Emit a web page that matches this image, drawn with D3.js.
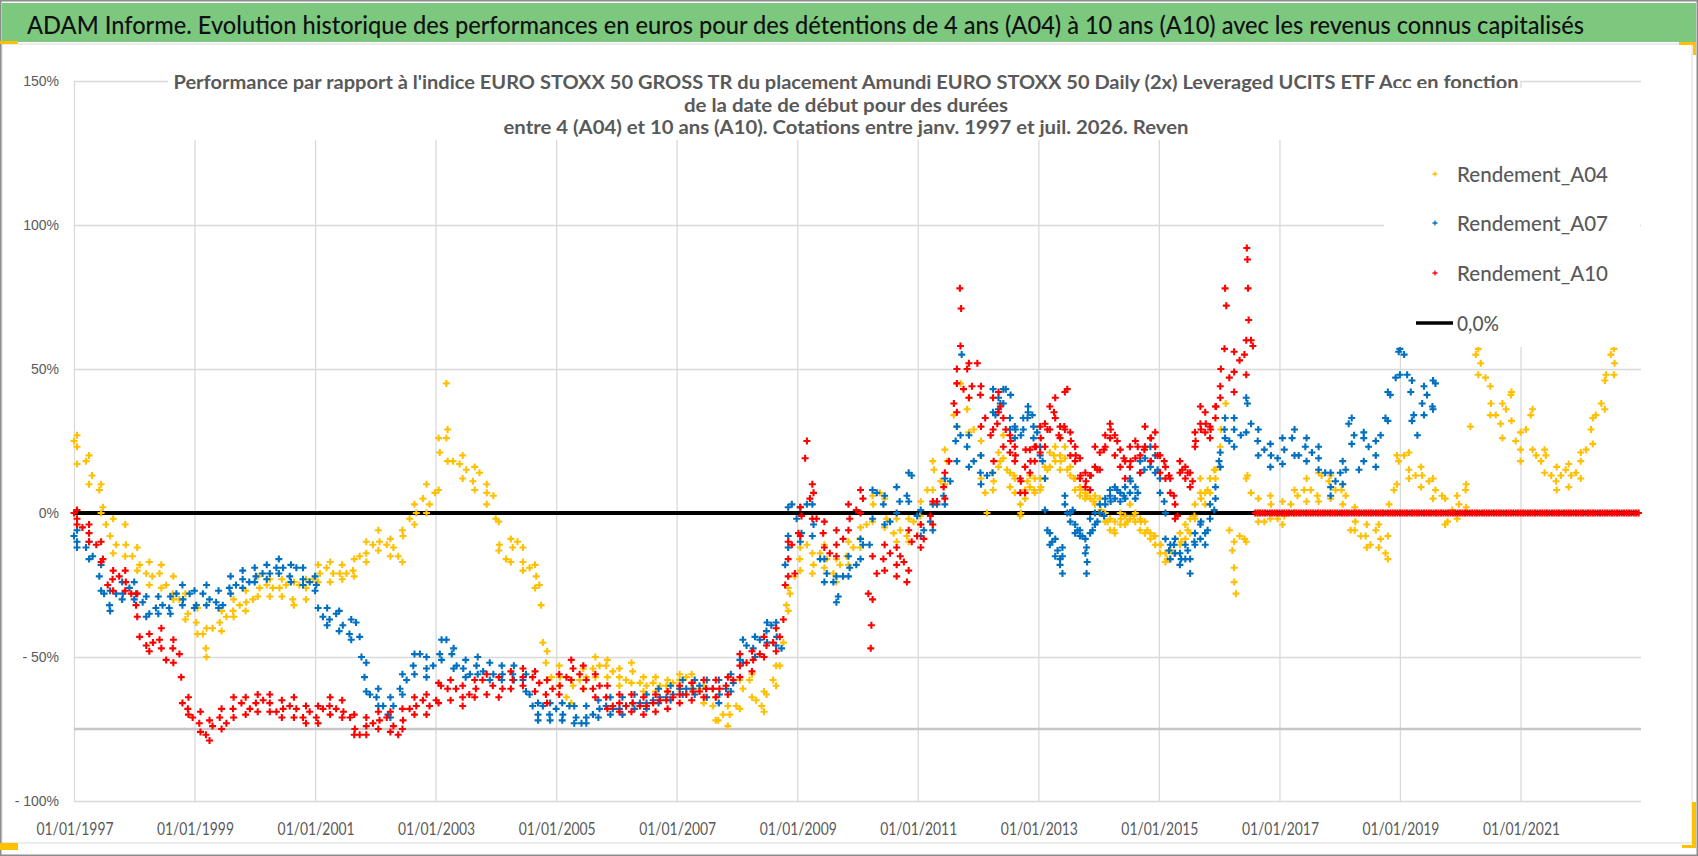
<!DOCTYPE html>
<html><head><meta charset="utf-8">
<script src="https://cdn.jsdelivr.net/npm/d3@7/dist/d3.min.js"></script>
<style>body{margin:0;background:#fff;overflow:hidden}</style>
</head><body>
<svg id="chart" width="1698" height="856"></svg>
<script>
// ---------------- DATA ----------------
const headerTitle = "ADAM Informe. Evolution historique des performances en euros pour des détentions de 4 ans (A04) à 10 ans (A10) avec les revenus connus capitalisés";
const chartTitleLines = [
  "Performance par rapport à l'indice EURO STOXX 50 GROSS TR  du placement Amundi EURO STOXX 50 Daily (2x) Leveraged UCITS ETF Acc en fonction",
  "de la date de début pour des durées",
  "entre 4 (A04) et 10 ans (A10). Cotations entre janv. 1997 et juil. 2026. Reven"
];
const seriesNames = ["Rendement_A04", "Rendement_A07", "Rendement_A10", "0,0%"];
const xTickYears = [1997, 1999, 2001, 2003, 2005, 2007, 2009, 2011, 2013, 2015, 2017, 2019, 2021];
const yTickValues = [150, 100, 50, 0, -50, -100];
const yTickLabels = ["150%", "100%", "50%", "0%", "- 50%", "- 100%"];
const xDomainYears = [1997, 2023];
const yDomain = [-100, 150];

// central readings: [decimal year, performance %]
const a04 = [
[1997.00,25],[1997.05,23],[1997.20,18],[1997.30,13],[1997.42,8],[1997.48,2],[1997.53,-4],[1997.60,-8],[1997.70,-11],[1997.86,-11],
[1997.97,-15],[1998.09,-18],[1998.20,-21],[1998.30,-22],[1998.42,-21],[1998.53,-25],[1998.64,-28],[1998.75,-30],[1998.89,-35],[1999.03,-38],
[1999.14,-42],[1999.19,-47],[1999.30,-40],[1999.42,-38],[1999.53,-36],[1999.64,-34],[1999.75,-32],[1999.86,-31],[1999.97,-30],[2000.08,-26],
[2000.20,-25],[2000.30,-26],[2000.41,-26],[2000.52,-25],[2000.63,-30],[2000.74,-25],[2000.85,-26],[2000.97,-23],[2001.08,-21],[2001.19,-19],
[2001.30,-21],[2001.41,-21],[2001.52,-21],[2001.63,-20],[2001.74,-15],[2001.85,-14],[2001.96,-11],[2002.07,-10],[2002.19,-11],[2002.30,-12],
[2002.38,-15],[2002.46,-8],[2002.57,-2],[2002.68,0],[2002.79,5],[2002.90,3],[2002.99,7],[2003.07,21],[2003.18,26],[2003.18,45],
[2003.29,18],[2003.40,17],[2003.51,15],[2003.62,11],[2003.73,14],[2003.85,7],[2003.96,6],[2004.00,-2],[2004.06,-11],[2004.17,-16],
[2004.28,-12],[2004.36,-10],[2004.45,-17],[2004.56,-19],[2004.67,-22],[2004.72,-25],[2004.75,-32],[2004.78,-45],[2004.83,-52],[2004.92,-57],
[2005.06,-57],[2005.17,-64],[2005.28,-60],[2005.39,-58],[2005.50,-57],[2005.61,-54],[2005.72,-53],[2005.83,-53],[2005.94,-55],[2006.05,-57],
[2006.16,-58],[2006.27,-55],[2006.39,-59],[2006.50,-60],[2006.61,-59],[2006.72,-60],[2006.83,-60],[2006.94,-59],[2007.05,-58],[2007.16,-57],
[2007.27,-59],[2007.38,-61],[2007.49,-64],[2007.60,-67],[2007.69,-72],[2007.77,-70],[2007.88,-70],[2007.99,-67],[2008.10,-61],[2008.21,-58],
[2008.32,-65],[2008.41,-67],[2008.49,-63],[2008.60,-58],[2008.71,-53],[2008.77,-45],[2008.82,-32],[2008.88,-28],[2008.96,-22],[2009.04,-16],
[2009.16,-11],[2009.27,-18],[2009.38,-14],[2009.49,-16],[2009.60,-21],[2009.71,-18],[2009.82,-15],[2009.93,-12],[2010.04,-9],[2010.15,-4],
[2010.26,3],[2010.37,7],[2010.48,-2],[2010.60,-7],[2010.71,-6],[2010.82,-8],[2010.93,-3],[2011.04,-1],[2011.16,8],[2011.27,15],
[2011.38,11],[2011.49,18],[2011.60,34],[2011.71,45],[2011.82,36],[2011.93,29],[2012.04,20],[2012.12,7],[2012.15,0],[2012.26,11],
[2012.37,18],[2012.48,15],[2012.60,13],[2012.71,0],[2012.82,11],[2012.93,8],[2013.04,9],[2013.15,15],[2013.26,20],[2013.37,18],
[2013.48,15],[2013.59,12],[2013.70,8],[2013.81,6],[2013.92,4],[2014.04,1],[2014.15,-3],[2014.26,-6],[2014.37,-2],[2014.48,-3],
[2014.59,-1],[2014.70,-3],[2014.81,-6],[2014.92,-8],[2015.03,-11],[2015.14,-16],[2015.25,-14],[2015.37,-10],[2015.48,-6],[2015.59,-1],
[2015.70,5],[2015.81,8],[2015.92,15],[2016.03,29],[2016.11,38],[2016.17,-6],[2016.22,-13],[2016.25,-19],[2016.28,-28],[2016.34,-8],
[2016.42,-9],[2016.47,13],[2016.53,7],[2016.64,0],[2016.75,-3],[2016.86,3],[2016.97,-2],[2017.08,-1],[2017.19,3],[2017.30,6],
[2017.41,8],[2017.52,8],[2017.63,6],[2017.70,13],[2017.82,11],[2017.93,8],[2018.03,8],[2018.10,6],[2018.18,-6],[2018.26,-3],
[2018.35,-8],[2018.43,-8],[2018.51,-11],[2018.60,-6],[2018.68,-9],[2018.76,-14],[2018.82,3],[2018.90,8],[2018.98,18],[2019.07,20],
[2019.15,15],[2019.26,13],[2019.37,13],[2019.48,11],[2019.59,8],[2019.70,6],[2019.79,-3],[2019.87,1],[2019.98,3],[2020.09,8],
[2020.17,30],[2020.26,55],[2020.34,52],[2020.42,47],[2020.51,38],[2020.59,34],[2020.67,31],[2020.76,36],[2020.84,41],[2020.92,25],
[2021.00,22],[2021.09,29],[2021.17,34],[2021.26,20],[2021.34,18],[2021.42,20],[2021.51,13],[2021.59,11],[2021.67,13],[2021.75,15],
[2021.84,13],[2021.92,14],[2022.00,18],[2022.09,22],[2022.17,29],[2022.25,34],[2022.34,38],[2022.42,48],[2022.50,55],[2022.56,52]
];
const a07 = [
[1997.00,-8],[1997.05,-10],[1997.20,-12],[1997.31,-15],[1997.42,-22],[1997.50,-28],[1997.59,-32],[1997.70,-28],[1997.81,-28],[1997.92,-26],
[1998.03,-28],[1998.14,-31],[1998.25,-35],[1998.36,-33],[1998.47,-32],[1998.58,-33],[1998.70,-28],[1998.81,-30],[1998.92,-28],[1999.03,-32],
[1999.14,-28],[1999.25,-30],[1999.36,-31],[1999.47,-32],[1999.58,-26],[1999.69,-25],[1999.80,-23],[1999.91,-24],[2000.02,-22],[2000.13,-21],
[2000.25,-21],[2000.36,-19],[2000.47,-19],[2000.58,-22],[2000.69,-19],[2000.80,-23],[2000.91,-24],[2001.02,-25],[2001.05,-33],[2001.13,-36],
[2001.24,-37],[2001.35,-35],[2001.46,-39],[2001.57,-42],[2001.68,-38],[2001.74,-43],[2001.77,-50],[2001.82,-57],[2001.91,-63],[2002.02,-64],
[2002.13,-67],[2002.21,-70],[2002.30,-67],[2002.41,-61],[2002.52,-58],[2002.63,-53],[2002.74,-49],[2002.85,-54],[2002.96,-53],[2003.07,-49],
[2003.18,-44],[2003.27,-49],[2003.35,-53],[2003.46,-54],[2003.57,-56],[2003.68,-53],[2003.79,-55],[2003.96,-56],[2004.11,-56],[2004.28,-56],
[2004.45,-58],[2004.56,-63],[2004.61,-67],[2004.70,-70],[2004.78,-67],[2004.89,-70],[2005.00,-68],[2005.11,-70],[2005.22,-67],[2005.33,-71],
[2005.42,-73],[2005.50,-71],[2005.61,-70],[2005.72,-68],[2005.83,-67],[2005.94,-68],[2006.05,-68],[2006.16,-67],[2006.27,-66],[2006.39,-66],
[2006.50,-66],[2006.61,-65],[2006.72,-64],[2006.83,-64],[2006.94,-63],[2007.05,-61],[2007.16,-61],[2007.27,-61],[2007.38,-60],[2007.49,-61],
[2007.60,-61],[2007.71,-63],[2007.82,-61],[2007.94,-59],[2008.05,-51],[2008.16,-46],[2008.27,-47],[2008.38,-44],[2008.49,-41],[2008.57,-39],
[2008.66,-43],[2008.74,-47],[2008.80,-18],[2008.85,-8],[2008.91,3],[2008.99,-2],[2009.07,-7],[2009.16,3],[2009.27,-4],[2009.38,-16],
[2009.49,-21],[2009.60,-24],[2009.68,-29],[2009.76,-22],[2009.87,-19],[2009.98,-18],[2010.09,-11],[2010.20,-11],[2010.32,7],[2010.43,3],
[2010.54,-3],[2010.70,4],[2010.82,6],[2010.90,13],[2010.99,-1],[2011.10,-6],[2011.21,-3],[2011.32,3],[2011.43,6],[2011.54,11],
[2011.63,25],[2011.71,27],[2011.73,55],[2011.82,23],[2011.93,18],[2012.04,14],[2012.15,13],[2012.24,14],[2012.29,34],[2012.37,38],
[2012.46,43],[2012.54,41],[2012.62,29],[2012.71,27],[2012.82,33],[2012.90,34],[2012.98,28],[2013.07,18],[2013.15,-6],[2013.23,-10],
[2013.32,-13],[2013.40,-15],[2013.48,0],[2013.57,1],[2013.65,-6],[2013.73,-8],[2013.81,-17],[2013.90,-6],[2013.98,-3],[2014.09,-1],
[2014.20,4],[2014.31,8],[2014.42,6],[2014.53,11],[2014.65,7],[2014.76,15],[2014.87,18],[2014.98,15],[2015.09,4],[2015.17,-13],
[2015.25,-11],[2015.37,-16],[2015.48,-13],[2015.59,-10],[2015.70,-3],[2015.81,-6],[2015.92,1],[2016.00,18],[2016.09,29],[2016.17,25],
[2016.25,29],[2016.36,27],[2016.47,38],[2016.53,31],[2016.64,25],[2016.75,22],[2016.86,20],[2016.97,19],[2017.08,22],[2017.21,26],
[2017.32,20],[2017.43,23],[2017.54,21],[2017.65,19],[2017.76,14],[2017.85,9],[2017.93,11],[2018.01,14],[2018.10,15],[2018.15,31],
[2018.24,27],[2018.32,15],[2018.40,26],[2018.48,23],[2018.60,20],[2018.68,27],[2018.76,33],[2018.84,41],[2018.93,47],[2018.98,56],
[2019.07,55],[2019.12,48],[2019.18,42],[2019.23,34],[2019.29,27],[2019.37,38],[2019.45,41],[2019.54,37],[2019.59,45]
];
const a10 = [
[1997.00,0],[1997.05,-2],[1997.14,-5],[1997.25,-7],[1997.37,-11],[1997.48,-16],[1997.56,-25],[1997.64,-23],[1997.75,-22],[1997.86,-24],
[1997.95,-28],[1998.03,-32],[1998.09,-43],[1998.20,-46],[1998.31,-45],[1998.42,-44],[1998.53,-51],[1998.64,-47],[1998.75,-49],[1998.78,-57],
[1998.80,-66],[1998.89,-68],[1998.97,-71],[1999.08,-73],[1999.19,-77],[1999.30,-74],[1999.42,-71],[1999.53,-73],[1999.64,-68],[1999.78,-66],
[1999.92,-68],[2000.02,-66],[2000.14,-65],[2000.25,-66],[2000.36,-69],[2000.47,-68],[2000.58,-67],[2000.69,-68],[2000.80,-71],[2000.91,-69],
[2001.02,-71],[2001.13,-68],[2001.24,-67],[2001.35,-68],[2001.47,-69],[2001.58,-71],[2001.66,-75],[2001.74,-77],[2001.85,-74],[2001.96,-73],
[2002.07,-72],[2002.19,-71],[2002.30,-74],[2002.38,-77],[2002.46,-72],[2002.57,-68],[2002.68,-67],[2002.79,-65],[2002.90,-67],[2003.01,-65],
[2003.09,-60],[2003.20,-61],[2003.34,-61],[2003.45,-64],[2003.56,-63],[2003.67,-61],[2003.78,-58],[2003.95,-60],[2004.11,-61],[2004.28,-58],
[2004.45,-57],[2004.61,-57],[2004.72,-59],[2004.83,-63],[2004.94,-61],[2005.06,-60],[2005.17,-57],[2005.28,-54],[2005.39,-56],[2005.50,-58],
[2005.61,-61],[2005.72,-60],[2005.83,-64],[2005.94,-67],[2006.05,-66],[2006.16,-67],[2006.27,-66],[2006.39,-67],[2006.50,-67],[2006.61,-66],
[2006.72,-65],[2006.83,-65],[2006.94,-64],[2007.05,-63],[2007.16,-63],[2007.27,-62],[2007.38,-62],[2007.49,-61],[2007.60,-61],[2007.71,-61],
[2007.82,-60],[2007.94,-58],[2008.05,-53],[2008.16,-52],[2008.27,-51],[2008.38,-49],[2008.49,-46],[2008.60,-45],[2008.71,-43],[2008.77,-37],
[2008.80,-25],[2008.85,-16],[2008.91,-11],[2008.96,-21],[2009.02,-7],[2009.07,-1],[2009.13,19],[2009.16,25],[2009.21,5],[2009.27,7],
[2009.32,-2],[2009.43,-7],[2009.54,-14],[2009.65,-11],[2009.76,-9],[2009.87,-2],[2009.98,1],[2010.09,5],[2010.18,-28],[2010.22,-47],
[2010.23,-39],[2010.32,-21],[2010.43,-16],[2010.54,-14],[2010.65,-18],[2010.71,-15],[2010.77,-17],[2010.82,-24],[2010.90,-10],[2010.99,-8],
[2011.10,-9],[2011.21,-1],[2011.32,4],[2011.43,9],[2011.52,18],[2011.60,38],[2011.65,45],[2011.70,78],[2011.71,58],[2011.72,71],
[2011.76,43],[2011.82,50],[2011.90,44],[2011.99,52],[2012.04,41],[2012.12,33],[2012.21,27],[2012.26,18],[2012.32,31],[2012.37,37],
[2012.46,29],[2012.54,25],[2012.62,20],[2012.71,11],[2012.79,22],[2012.87,18],[2012.96,23],[2013.04,26],[2013.15,29],[2013.26,35],
[2013.34,27],[2013.43,30],[2013.48,43],[2013.54,25],[2013.62,20],[2013.70,13],[2013.79,11],[2013.87,13],[2013.98,15],[2014.09,22],
[2014.20,29],[2014.31,25],[2014.42,19],[2014.53,18],[2014.65,23],[2014.76,22],[2014.87,26],[2014.98,20],[2015.09,18],[2015.17,13],
[2015.25,6],[2015.31,-1],[2015.39,15],[2015.48,14],[2015.56,11],[2015.61,25],[2015.70,29],[2015.78,31],[2015.86,29],[2015.95,37],
[2016.03,50],[2016.09,57],[2016.10,78],[2016.12,72],[2016.17,47],[2016.25,49],[2016.34,53],[2016.42,55],[2016.46,92],[2016.47,88],
[2016.48,78],[2016.49,67],[2016.53,60],[2016.56,58],
[2016.60,0],[2016.64,0],[2016.68,0],[2016.72,0],[2016.76,0],[2016.80,0],[2016.84,0],[2016.88,0],[2016.92,0],[2016.96,0],
[2017.00,0],[2017.04,0],[2017.08,0],[2017.12,0],[2017.16,0],[2017.20,0],[2017.24,0],[2017.28,0],[2017.32,0],[2017.36,0],
[2017.40,0],[2017.44,0],[2017.48,0],[2017.52,0],[2017.56,0],[2017.60,0],[2017.64,0],[2017.68,0],[2017.72,0],[2017.76,0],
[2017.80,0],[2017.84,0],[2017.88,0],[2017.92,0],[2017.96,0],[2018.00,0],[2018.04,0],[2018.08,0],[2018.12,0],[2018.16,0],
[2018.20,0],[2018.24,0],[2018.28,0],[2018.32,0],[2018.36,0],[2018.40,0],[2018.44,0],[2018.48,0],[2018.52,0],[2018.56,0],
[2018.60,0],[2018.64,0],[2018.68,0],[2018.72,0],[2018.76,0],[2018.80,0],[2018.84,0],[2018.88,0],[2018.92,0],[2018.96,0],
[2019.00,0],[2019.04,0],[2019.08,0],[2019.12,0],[2019.16,0],[2019.20,0],[2019.24,0],[2019.28,0],[2019.32,0],[2019.36,0],
[2019.40,0],[2019.44,0],[2019.48,0],[2019.52,0],[2019.56,0],[2019.60,0],[2019.64,0],[2019.68,0],[2019.72,0],[2019.76,0],
[2019.80,0],[2019.84,0],[2019.88,0],[2019.92,0],[2019.96,0],[2020.00,0],[2020.04,0],[2020.08,0],[2020.12,0],[2020.16,0],
[2020.20,0],[2020.24,0],[2020.28,0],[2020.32,0],[2020.36,0],[2020.40,0],[2020.44,0],[2020.48,0],[2020.52,0],[2020.56,0],
[2020.60,0],[2020.64,0],[2020.68,0],[2020.72,0],[2020.76,0],[2020.80,0],[2020.84,0],[2020.88,0],[2020.92,0],[2020.96,0],
[2021.00,0],[2021.04,0],[2021.08,0],[2021.12,0],[2021.16,0],[2021.20,0],[2021.24,0],[2021.28,0],[2021.32,0],[2021.36,0],
[2021.40,0],[2021.44,0],[2021.48,0],[2021.52,0],[2021.56,0],[2021.60,0],[2021.64,0],[2021.68,0],[2021.72,0],[2021.76,0],
[2021.80,0],[2021.84,0],[2021.88,0],[2021.92,0],[2021.96,0],[2022.00,0],[2022.04,0],[2022.08,0],[2022.12,0],[2022.16,0],
[2022.20,0],[2022.24,0],[2022.28,0],[2022.32,0],[2022.36,0],[2022.40,0],[2022.44,0],[2022.48,0],[2022.52,0],[2022.56,0],
[2022.60,0],[2022.64,0],[2022.68,0],[2022.72,0],[2022.76,0],[2022.80,0],[2022.84,0],[2022.88,0],[2022.92,0],[2022.96,0]
];
// two readings at the same date (cluster low / high): [decimal year, %, %]
const a04Edges = [
[1997.05,17,27],[1997.25,10,20],[1997.45,0,10],[1997.65,-14,-2],[1997.85,-15,-4],[1998.05,-20,-12],[1998.25,-25,-17],[1998.45,-26,-18],
[1998.65,-30,-22],[1998.85,-37,-28],[1999.05,-42,-33],[1999.20,-50,-40],[1999.45,-41,-34],[1999.65,-36,-30],[1999.85,-34,-27],[2000.05,-29,-22],
[2000.25,-29,-23],[2000.45,-29,-23],[2000.65,-32,-24],[2000.85,-30,-23],[2001.05,-24,-18],[2001.25,-24,-17],[2001.45,-23,-18],[2001.65,-22,-16],
[2001.85,-17,-10],[2002.05,-13,-6],[2002.25,-15,-9],[2002.45,-17,-6],[2002.65,-4,3],[2002.85,0,10],[2003.05,8,26],[2003.20,18,29],
[2003.45,12,20],[2003.65,8,16],[2003.85,3,10],[2004.05,-13,-3],[2004.25,-17,-9],[2004.45,-20,-12],[2004.65,-26,-18],[2004.85,-58,-48],
[2005.05,-60,-53],[2005.25,-66,-58],[2005.45,-61,-54],[2005.65,-57,-50],[2005.85,-57,-51],[2006.05,-60,-54],[2006.25,-59,-52],[2006.45,-62,-57],
[2006.65,-62,-57],[2006.85,-62,-58],[2007.05,-61,-56],[2007.25,-61,-56],[2007.45,-66,-60],[2007.65,-72,-64],[2007.85,-74,-67],[2008.05,-68,-58],
[2008.25,-64,-56],[2008.45,-69,-62],[2008.65,-60,-53],[2008.85,-34,-26],[2009.05,-20,-12],[2009.25,-21,-14],[2009.45,-19,-11],[2009.65,-24,-16],
[2009.85,-18,-10],[2010.05,-12,-5],[2010.25,-3,6],[2010.45,-5,5],[2010.65,-10,-2],[2010.85,-10,-2],[2011.05,-4,4],[2011.25,8,18],
[2011.45,10,22],[2011.65,30,45],[2011.85,28,40],[2012.05,12,25],[2012.25,14,8],[2012.34,21,16],[2012.42,27,19],[2012.53,14,9],
[2012.61,12,7],[2012.70,3,-1],[2012.78,8,5],[2012.86,13,9],[2012.94,12,7],[2013.03,12,8],[2013.11,16,12],[2013.19,21,16],
[2013.28,23,18],[2013.36,20,15],[2013.44,19,23],[2013.53,16,13],[2013.61,12,8],[2013.69,9,6],[2013.78,7,5],[2013.86,8,5],
[2013.94,6,3],[2014.02,5,0],[2014.11,0,-3],[2014.19,-2,-6],[2014.27,-3,-7],[2014.36,0,-4],[2014.44,-1,-4],[2014.52,3,-2],
[2014.61,0,-3],[2014.69,-2,-6],[2014.77,-3,-7],[2014.86,-7,-9],[2014.94,-8,-11],[2015.02,-11,-14],[2015.11,-14,-17],[2015.19,-13,-16],
[2015.27,-9,-14],[2015.35,-7,-11],[2015.44,-4,-9],[2015.52,-2,-7],[2015.60,3,-2],[2015.69,12,7],[2015.77,7,3],[2015.85,12,7],
[2015.94,15,12],[2016.02,23,16],
[2016.25,-24,-10],[2016.45,-10,12],[2016.65,-3,5],[2016.85,-2,6],[2017.05,-4,4],[2017.25,0,8],[2017.45,4,12],[2017.65,4,14],
[2017.85,5,13],[2018.05,3,10],[2018.25,-6,2],[2018.45,-12,-4],[2018.65,-12,-4],[2018.80,-16,-8],[2018.95,10,20],[2019.15,12,21],
[2019.35,9,16],[2019.55,5,12],[2019.75,-4,5],[2019.95,-2,6],[2020.10,2,10],[2020.30,48,57],[2020.50,34,44],[2020.70,26,38],
[2020.85,32,42],[2021.00,18,28],[2021.20,22,36],[2021.40,14,22],[2021.60,8,16],[2021.80,9,17],[2022.00,12,21],[2022.20,24,33],
[2022.40,36,46],[2022.55,48,57]
];
const a07Edges = [
[1997.05,-12,-6],[1997.25,-16,-10],[1997.45,-27,-18],[1997.60,-34,-27],[1997.80,-30,-24],[1998.00,-30,-24],[1998.20,-36,-29],[1998.40,-35,-29],
[1998.60,-35,-29],[1998.80,-32,-25],[1999.00,-33,-27],[1999.20,-32,-25],[1999.40,-33,-27],[1999.60,-28,-22],[1999.80,-26,-20],[2000.00,-24,-19],
[2000.20,-23,-18],[2000.40,-21,-16],[2000.60,-24,-18],[2000.80,-25,-19],[2001.00,-27,-22],[2001.20,-39,-33],[2001.40,-41,-34],[2001.60,-44,-37],
[2001.85,-62,-52],[2002.05,-67,-61],[2002.25,-71,-64],[2002.45,-63,-56],[2002.65,-56,-49],[2002.85,-57,-50],[2003.10,-51,-44],[2003.30,-54,-47],
[2003.50,-57,-51],[2003.70,-56,-50],[2003.90,-58,-52],[2004.10,-58,-53],[2004.30,-58,-53],[2004.50,-62,-56],[2004.70,-72,-66],[2004.90,-72,-66],
[2005.10,-72,-66],[2005.30,-73,-67],[2005.50,-73,-67],[2005.70,-71,-65],[2005.90,-70,-64],[2006.10,-70,-64],[2006.30,-68,-63],[2006.50,-68,-63],
[2006.70,-66,-61],[2006.90,-65,-60],[2007.10,-63,-58],[2007.30,-63,-58],[2007.50,-64,-58],[2007.70,-66,-58],[2007.90,-62,-56],[2008.10,-52,-44],
[2008.30,-50,-43],[2008.50,-45,-38],[2008.65,-46,-38],[2008.85,-12,2],[2009.05,-10,2],[2009.25,-8,3],[2009.45,-24,-16],[2009.65,-31,-22],
[2009.85,-22,-15],[2010.05,-16,-9],[2010.25,-2,8],[2010.45,-4,6],[2010.65,0,9],[2010.85,4,14],[2011.05,-8,1],[2011.25,-6,3],
[2011.45,3,12],[2011.65,18,30],[2011.85,16,27],[2012.05,10,20],[2012.25,43,35],[2012.34,40,36],[2012.42,43,38],[2012.53,29,33],
[2012.61,26,30],[2012.75,33,29],[2012.83,37,35],[2012.92,30,26],[2013.03,23,20],[2013.11,12,1],[2013.19,-7,-11],[2013.28,-9,-15],
[2013.36,-16,-18],[2013.40,-21,-12],[2013.44,3,6],[2013.53,0,-3],[2013.61,-4,-7],[2013.69,-6,-8],[2013.78,-9,-14],[2013.80,-21,-12],
[2013.86,-7,-2],[2013.94,-4,0],[2014.02,0,3],[2014.11,3,5],[2014.19,6,8],[2014.27,5,9],[2014.36,7,4],[2014.44,9,5],
[2014.52,12,7],[2014.61,9,5],[2014.69,14,18],[2014.77,19,23],[2014.86,23,16],[2014.94,20,14],[2015.02,12,7],[2015.11,0,-9],
[2015.19,-11,-16],[2015.27,-9,-14],[2015.35,-14,-18],[2015.44,-11,-16],[2015.52,-16,-21],[2015.60,-7,-11],[2015.69,-4,-9],[2015.77,-11,-7],
[2015.85,-2,3],[2015.94,5,9],[2016.02,16,21],[2016.10,26,33],
[2016.25,23,33],[2016.45,28,40],[2016.65,20,29],[2016.85,16,24],[2017.05,17,26],[2017.25,20,29],[2017.45,18,26],[2017.65,15,23],
[2017.85,6,14],[2018.05,10,18],[2018.20,24,33],[2018.40,18,28],[2018.60,16,25],[2018.80,32,42],[2019.00,48,57],[2019.20,32,46],
[2019.40,34,44],[2019.55,36,46]
];
const a10Edges = [
[1997.05,-4,1],[1997.25,-10,-4],[1997.45,-17,-10],[1997.65,-27,-20],[1997.85,-27,-20],[1998.05,-36,-28],[1998.25,-48,-42],[1998.45,-47,-40],
[1998.65,-52,-44],[1998.90,-70,-64],[1999.10,-76,-69],[1999.25,-79,-72],[1999.45,-75,-68],[1999.65,-71,-64],[1999.85,-70,-64],[2000.05,-69,-63],
[2000.25,-69,-63],[2000.45,-71,-65],[2000.65,-71,-64],[2000.85,-73,-67],[2001.05,-73,-67],[2001.25,-70,-64],[2001.45,-71,-65],[2001.65,-77,-70],
[2001.85,-77,-71],[2002.05,-75,-69],[2002.25,-76,-69],[2002.45,-75,-68],[2002.65,-70,-64],[2002.85,-70,-63],[2003.05,-66,-59],[2003.25,-65,-58],
[2003.45,-67,-60],[2003.65,-64,-58],[2003.85,-63,-56],[2004.05,-64,-57],[2004.25,-61,-55],[2004.45,-60,-54],[2004.65,-62,-55],[2004.85,-66,-58],
[2005.05,-63,-56],[2005.25,-58,-51],[2005.45,-61,-53],[2005.65,-64,-56],[2005.85,-68,-60],[2006.05,-69,-63],[2006.25,-69,-63],[2006.45,-70,-64],
[2006.65,-69,-63],[2006.85,-68,-62],[2007.05,-66,-60],[2007.25,-65,-59],[2007.45,-64,-58],[2007.65,-64,-58],[2007.85,-63,-57],[2008.05,-57,-49],
[2008.25,-55,-48],[2008.45,-50,-43],[2008.65,-48,-40],[2008.85,-22,-10],[2009.05,-8,2],[2009.25,-2,10],[2009.45,-12,-3],[2009.65,-15,-6],
[2009.85,-6,3],[2010.05,0,8],[2010.25,-30,-15],[2010.45,-20,-11],[2010.65,-22,-12],[2010.85,-20,-6],[2011.05,-12,-4],[2011.25,-4,4],
[2011.45,5,14],[2011.65,35,50],[2011.85,40,52],[2012.05,30,44],[2012.25,40,29],[2012.34,42,35],[2012.42,33,23],[2012.53,27,21],
[2012.61,18,23],[2012.70,7,12],[2012.78,7,16],[2012.86,22,14],[2012.94,23,18],[2013.03,30,21],[2013.11,31,23],[2013.19,37,29],
[2013.28,40,33],[2013.36,26,30],[2013.44,29,42],[2013.53,28,20],[2013.61,23,18],[2013.69,19,12],[2013.78,9,14],[2013.86,8,13],
[2013.94,23,16],[2014.02,21,15],[2014.11,23,27],[2014.19,31,26],[2014.27,27,20],[2014.36,22,16],[2014.44,18,12],[2014.52,23,16],
[2014.61,25,19],[2014.69,20,14],[2014.77,30,23],[2014.86,26,18],[2014.94,23,28],[2015.02,20,14],[2015.11,16,12],[2015.19,12,7],
[2015.27,3,-2],[2015.35,14,18],[2015.44,16,12],[2015.52,14,9],[2015.60,28,23],[2015.69,31,37],[2015.77,35,28],[2015.85,30,26],
[2015.94,37,33],[2016.02,44,40],
[2016.25,42,56],[2016.45,48,60]
];
const zeroLine = [[1997.00, 0], [2022.97, 0]];
const refLine = [[1997.00, -75], [2023.00, -75]];

// ---------------- DRAWING ----------------
const svg = d3.select("#chart");
const W = 1698, H = 856;
const colors = {a04: "#FFC000", a07: "#0070C0", a10: "#FF0000"};
const txtGray = "#595959";
const font = "Lato,'Open Sans','DejaVu Sans',sans-serif";

function toDate(yd) {
  const y0 = Math.floor(yd);
  const s = new Date(y0, 0, 1), e = new Date(y0 + 1, 0, 1);
  return new Date(s.getTime() + (yd - y0) * (e - s));
}
function squeeze(sel, target) {
  sel.attr("textLength", target).attr("lengthAdjust", "spacingAndGlyphs");
}

const x = d3.scaleTime().domain(xDomainYears.map(v => new Date(v, 0, 1))).range([74, 1641]);
const y = d3.scaleLinear().domain(yDomain).range([801, 81]);

// backgrounds
svg.append("rect").attr("x", 0).attr("y", 0).attr("width", W).attr("height", H).attr("fill", "#fff");
svg.append("rect").attr("x", 2).attr("y", 44).attr("width", 1690).attr("height", 799)
  .attr("fill", "#fff").attr("stroke", "#d9d9d9").attr("stroke-width", 1);
svg.append("rect").attr("x", 0.75).attr("y", 0.75).attr("width", W - 1.5).attr("height", H - 1.5)
  .attr("fill", "none").attr("stroke", "#8c8c8c").attr("stroke-width", 1.5);
svg.append("rect").attr("x", 2).attr("y", 3).attr("width", 1694).attr("height", 39).attr("fill", "#7dc87f");

// header title
const ht = svg.append("text").attr("x", 27).attr("y", 34).attr("font-family", font).attr("font-weight", 500)
  .attr("font-size", 25).attr("fill", "#111").text(headerTitle);
squeeze(ht, 1557);

// grid via axes
const xAxis = d3.axisBottom(x)
  .tickValues(xTickYears.map(v => new Date(v, 0, 1)))
  .tickFormat(d3.timeFormat("%d/%m/%Y"))
  .tickSize(-(801 - 81)).tickPadding(0);
const gx = svg.append("g").attr("transform", "translate(0,801)").call(xAxis);
gx.select(".domain").remove();
gx.selectAll(".tick line").attr("stroke", "#d9d9d9").attr("stroke-width", 1.3);
gx.selectAll(".tick text").attr("font-family", font).attr("font-size", 18)
  .attr("fill", txtGray).attr("y", 34).attr("dy", 0).attr("x", -38).attr("text-anchor", "start")
  .each(function(){ squeeze(d3.select(this), 77); });

const yAxis = d3.axisLeft(y).tickValues(yTickValues)
  .tickFormat((d, i) => yTickLabels[i]).tickSize(-(1641 - 74)).tickPadding(0);
const gy = svg.append("g").attr("transform", "translate(74,0)").call(yAxis);
gy.select(".domain").remove();
gy.selectAll(".tick line").attr("stroke", "#d9d9d9").attr("stroke-width", 1.3);
gy.selectAll(".tick text").attr("font-family", "'Liberation Sans',Arial,sans-serif").attr("font-size", 14)
  .attr("fill", txtGray).attr("x", -15).attr("dy", "0.35em");

// reference line -75 %
const lineGen = d3.line().x(d => x(toDate(d[0]))).y(d => y(d[1]));
svg.append("path").datum(refLine).attr("d", lineGen).attr("fill", "none")
  .attr("stroke", "#c6c6c6").attr("stroke-width", 2.4);

// 0% black line
svg.append("path").datum(zeroLine).attr("d", lineGen).attr("fill", "none")
  .attr("stroke", "#000").attr("stroke-width", 4);

// scatter series
const plus = "M-3.5,0H3.5M0,-3.5V3.5";
svg.append("clipPath").attr("id", "plotclip").append("rect")
  .attr("x", 60).attr("y", 81).attr("width", 1600).attr("height", 720);
function edgePoints(edges) {
  const pts = [];
  edges.forEach(e => { pts.push([e[0], e[1]]); pts.push([e[0], e[2]]); });
  return pts;
}
[[a04, a04Edges, colors.a04], [a07, a07Edges, colors.a07], [a10, a10Edges, colors.a10]].forEach(([data, edges, col]) => {
  const pts = data.concat(edgePoints(edges));
  svg.append("g").attr("clip-path", "url(#plotclip)")
    .selectAll("path").data(pts).join("path")
    .attr("d", plus)
    .attr("transform", d => `translate(${x(toDate(d[0]))},${y(d[1])})`)
    .attr("fill", "none").attr("stroke", col).attr("stroke-width", 2.1);
});

// chart title (with white background over gridline)
svg.append("rect").attr("x", 168).attr("y", 68).attr("width", 1352).attr("height", 72).attr("fill", "#fff");
const titleBase = [89, 112, 134];
const titleWidths = [1345, 324, 685];
chartTitleLines.forEach((t, i) => {
  const el = svg.append("text").attr("x", 846 - titleWidths[i] / 2).attr("y", titleBase[i])
    .attr("font-family", font).attr("font-weight", "bold").attr("font-size", 19)
    .attr("fill", txtGray).text(t);
  squeeze(el, titleWidths[i]);
});

// legend
svg.append("rect").attr("x", 1384).attr("y", 88).attr("width", 256).attr("height", 259).attr("fill", "#fff");
const legCenters = [174, 223, 273, 323];
const legWidths = [151, 151, 151, 42];
const legCols = [colors.a04, colors.a07, colors.a10];
seriesNames.forEach((name, i) => {
  if (i < 3) {
    svg.append("path").attr("d", "M-2.5,0H2.5M0,-2.5V2.5")
      .attr("transform", `translate(1435,${legCenters[i]})`)
      .attr("stroke", legCols[i]).attr("stroke-width", 1.3).attr("fill", "none");
  } else {
    svg.append("line").attr("x1", 1416).attr("x2", 1453).attr("y1", legCenters[i]).attr("y2", legCenters[i])
      .attr("stroke", "#000").attr("stroke-width", 3.5);
  }
  const el = svg.append("text").attr("x", 1457).attr("y", legCenters[i] + 8)
    .attr("font-family", font).attr("font-weight", 500).attr("font-size", 22).attr("fill", txtGray).text(name);
  squeeze(el, legWidths[i]);
});

// selection handles (orange marks)
const hc = "#FFC000";
[[0, 41, 18, 3], [1679, 42, 17, 3], [1693, 42, 3, 13], [1692, 802, 4, 46], [1682, 845, 14, 3], [0, 843, 18, 7]]
  .forEach(r => svg.append("rect").attr("x", r[0]).attr("y", r[1]).attr("width", r[2]).attr("height", r[3]).attr("fill", hc));
</script>
</body></html>
